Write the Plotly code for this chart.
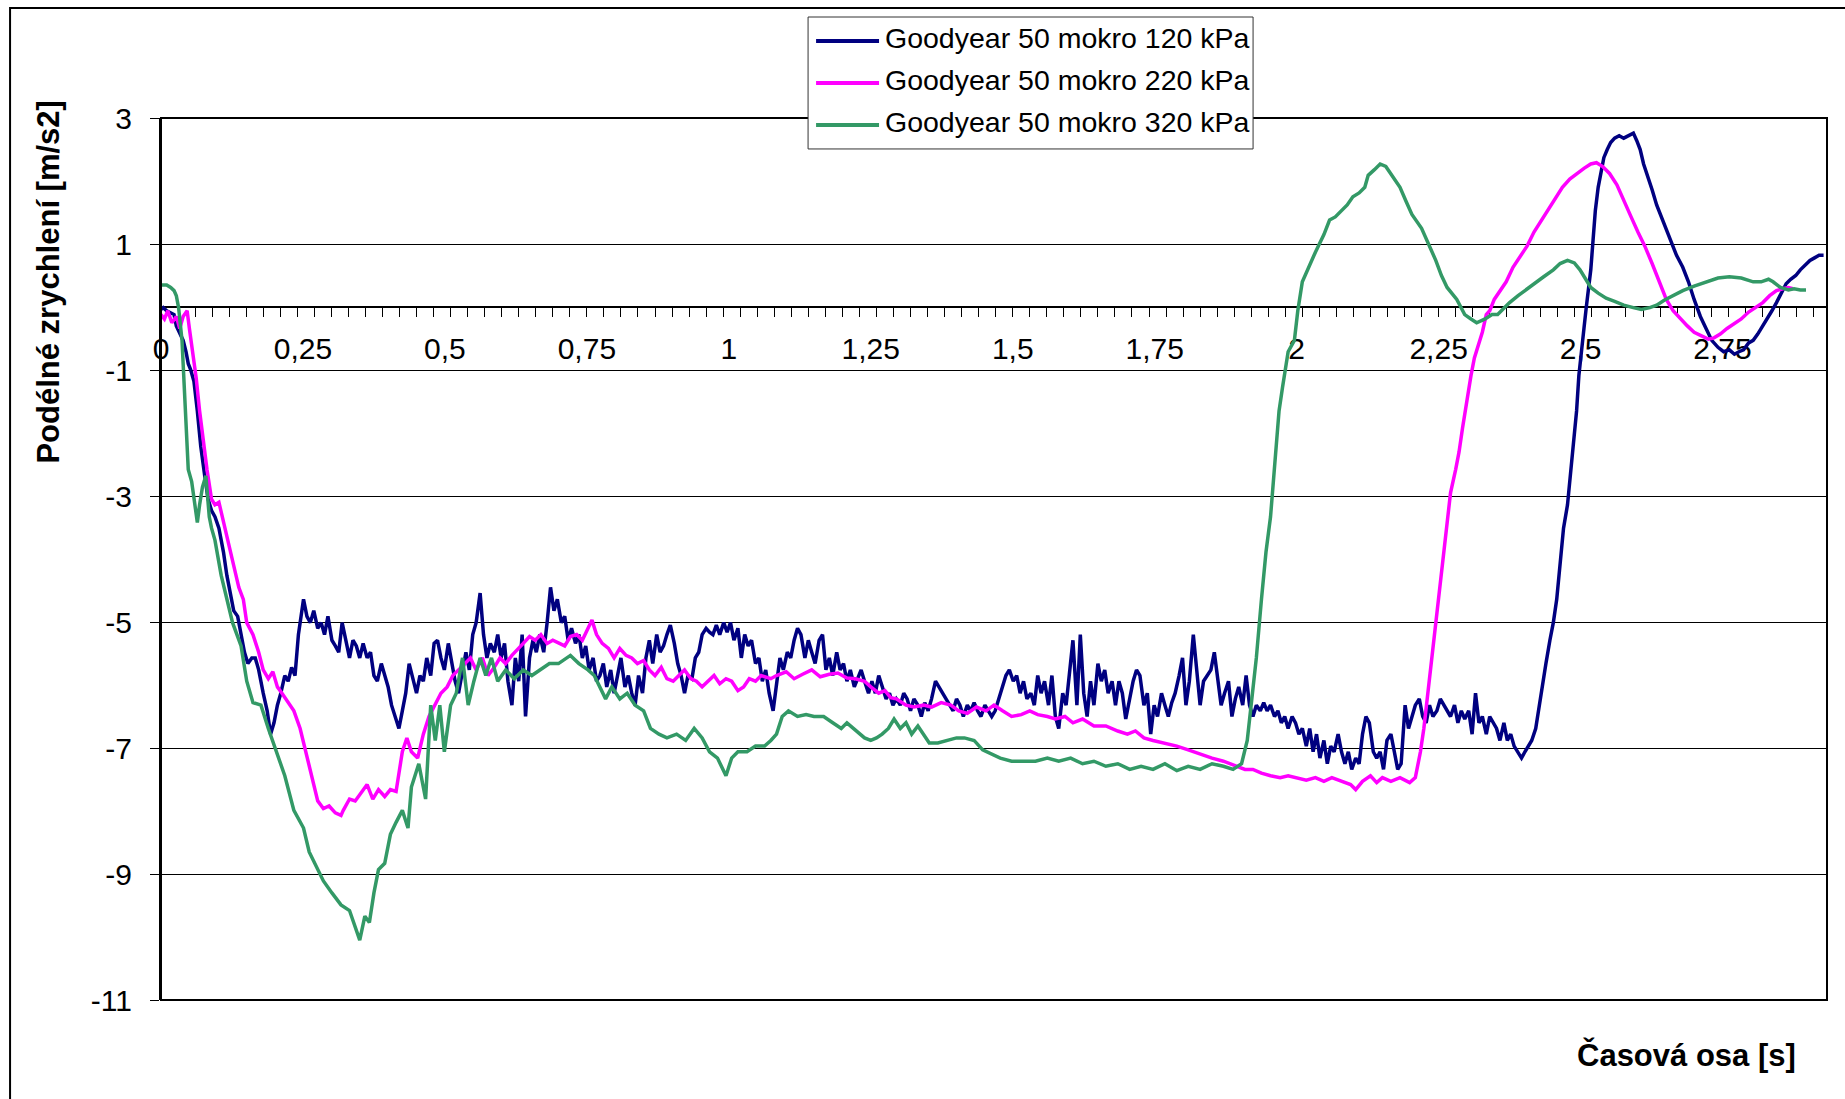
import plotly.graph_objects as go

# Longitudinal acceleration records, Goodyear tyre on wet surface, three inflation pressures
series_names = [
    "Goodyear 50 mokro 120 kPa",
    "Goodyear 50 mokro 220 kPa",
    "Goodyear 50 mokro 320 kPa",
]
series_colors = ["#000080", "#FF00FF", "#339966"]

t_120 = [
    0.000, 0.004, 0.010, 0.017, 0.023, 0.027, 0.033, 0.039, 0.044, 0.048, 0.052, 0.058, 0.064, 0.070,
    0.077, 0.083, 0.089, 0.095, 0.102, 0.110, 0.116, 0.122, 0.128, 0.135, 0.141, 0.147, 0.153, 0.160,
    0.166, 0.172, 0.180, 0.187, 0.193, 0.199, 0.205, 0.211, 0.218, 0.224, 0.230, 0.236, 0.242, 0.251,
    0.257, 0.263, 0.269, 0.276, 0.282, 0.288, 0.294, 0.301, 0.307, 0.313, 0.319, 0.325, 0.332, 0.338,
    0.344, 0.350, 0.356, 0.363, 0.369, 0.375, 0.381, 0.388, 0.394, 0.400, 0.406, 0.412, 0.419, 0.425,
    0.431, 0.437, 0.444, 0.450, 0.456, 0.462, 0.468, 0.475, 0.481, 0.487, 0.493, 0.499, 0.506, 0.512,
    0.518, 0.524, 0.531, 0.537, 0.543, 0.549, 0.555, 0.562, 0.568, 0.574, 0.580, 0.587, 0.593, 0.599,
    0.605, 0.611, 0.618, 0.624, 0.630, 0.636, 0.642, 0.649, 0.655, 0.661, 0.667, 0.674, 0.680, 0.686,
    0.692, 0.698, 0.705, 0.711, 0.717, 0.723, 0.730, 0.736, 0.742, 0.748, 0.754, 0.761, 0.767, 0.773,
    0.779, 0.785, 0.792, 0.798, 0.804, 0.810, 0.817, 0.823, 0.829, 0.835, 0.841, 0.848, 0.854, 0.860,
    0.866, 0.873, 0.879, 0.885, 0.891, 0.897, 0.904, 0.910, 0.916, 0.922, 0.928, 0.935, 0.941, 0.947,
    0.953, 0.960, 0.966, 0.972, 0.978, 0.984, 0.991, 0.997, 1.003, 1.009, 1.016, 1.022, 1.028, 1.034,
    1.040, 1.047, 1.053, 1.059, 1.065, 1.071, 1.078, 1.084, 1.090, 1.096, 1.103, 1.109, 1.115, 1.121,
    1.127, 1.134, 1.140, 1.146, 1.152, 1.159, 1.165, 1.171, 1.177, 1.183, 1.190, 1.196, 1.202, 1.208,
    1.214, 1.221, 1.227, 1.233, 1.239, 1.246, 1.252, 1.258, 1.264, 1.270, 1.277, 1.283, 1.289, 1.295,
    1.302, 1.308, 1.314, 1.320, 1.326, 1.333, 1.339, 1.345, 1.351, 1.357, 1.364, 1.370, 1.376, 1.382,
    1.389, 1.395, 1.401, 1.407, 1.413, 1.420, 1.426, 1.432, 1.438, 1.444, 1.451, 1.457, 1.463, 1.469,
    1.476, 1.482, 1.488, 1.494, 1.501, 1.507, 1.513, 1.519, 1.525, 1.532, 1.538, 1.544, 1.550, 1.556,
    1.563, 1.569, 1.575, 1.581, 1.588, 1.594, 1.600, 1.606, 1.613, 1.619, 1.625, 1.631, 1.637, 1.643,
    1.650, 1.656, 1.662, 1.668, 1.675, 1.681, 1.687, 1.693, 1.699, 1.706, 1.712, 1.718, 1.724, 1.731,
    1.737, 1.743, 1.749, 1.755, 1.762, 1.768, 1.774, 1.780, 1.786, 1.793, 1.799, 1.805, 1.811, 1.818,
    1.824, 1.830, 1.836, 1.842, 1.849, 1.855, 1.861, 1.867, 1.873, 1.880, 1.886, 1.892, 1.898, 1.905,
    1.911, 1.917, 1.923, 1.929, 1.936, 1.942, 1.948, 1.954, 1.961, 1.967, 1.973, 1.979, 1.985, 1.992,
    1.998, 2.004, 2.010, 2.017, 2.023, 2.029, 2.035, 2.041, 2.048, 2.054, 2.060, 2.066, 2.073, 2.079,
    2.085, 2.091, 2.097, 2.104, 2.110, 2.116, 2.122, 2.128, 2.135, 2.141, 2.147, 2.153, 2.159, 2.166,
    2.172, 2.178, 2.184, 2.191, 2.197, 2.203, 2.209, 2.216, 2.222, 2.228, 2.234, 2.240, 2.247, 2.253,
    2.259, 2.265, 2.271, 2.278, 2.284, 2.290, 2.296, 2.303, 2.309, 2.315, 2.321, 2.327, 2.334, 2.340,
    2.346, 2.352, 2.358, 2.365, 2.371, 2.377, 2.383, 2.390, 2.396, 2.402, 2.408, 2.414, 2.421, 2.427,
    2.433, 2.439, 2.446, 2.452, 2.458, 2.464, 2.470, 2.477, 2.483, 2.489, 2.493, 2.497, 2.501, 2.506,
    2.510, 2.514, 2.518, 2.522, 2.526, 2.531, 2.535, 2.541, 2.547, 2.553, 2.560, 2.568, 2.576, 2.586,
    2.593, 2.599, 2.605, 2.611, 2.618, 2.626, 2.634, 2.642, 2.651, 2.659, 2.669, 2.680, 2.690, 2.700,
    2.711, 2.721, 2.731, 2.742, 2.752, 2.762, 2.771, 2.779, 2.787, 2.796, 2.804, 2.812, 2.821, 2.829,
    2.837, 2.845, 2.854, 2.862, 2.870, 2.879, 2.887, 2.895, 2.904, 2.912, 2.920, 2.928,
]
a_120 = [
    -0.04, -0.01, -0.06, -0.10, -0.12, -0.30, -0.43, -0.53, -0.71, -0.90, -0.99, -1.18, -1.65, -2.21,
    -2.68, -3.05, -3.23, -3.33, -3.51, -3.89, -4.26, -4.54, -4.82, -4.91, -5.20, -5.48, -5.66, -5.57,
    -5.57, -5.76, -6.13, -6.41, -6.78, -6.60, -6.32, -6.13, -5.85, -5.94, -5.72, -5.85, -5.20, -4.64,
    -4.91, -5.01, -4.82, -5.10, -5.01, -5.20, -4.91, -5.29, -5.38, -5.48, -5.01, -5.29, -5.57, -5.29,
    -5.38, -5.57, -5.34, -5.57, -5.48, -5.85, -5.94, -5.66, -5.85, -6.03, -6.32, -6.50, -6.69, -6.41,
    -6.13, -5.66, -5.90, -6.13, -5.85, -5.94, -5.57, -5.85, -5.34, -5.29, -5.57, -5.76, -5.34, -5.66,
    -5.94, -6.13, -5.76, -5.48, -5.76, -5.20, -5.01, -4.54, -5.20, -5.57, -5.34, -5.48, -5.20, -5.57,
    -5.34, -5.94, -6.32, -5.57, -5.94, -5.20, -6.50, -5.57, -5.29, -5.48, -5.20, -5.48, -5.01, -4.45,
    -4.82, -4.64, -5.01, -4.91, -5.29, -5.10, -5.34, -5.20, -5.57, -5.38, -5.76, -5.57, -5.94, -5.85,
    -5.66, -6.03, -5.76, -6.13, -5.85, -5.57, -6.03, -5.85, -6.13, -6.32, -5.85, -6.13, -5.57, -5.29,
    -5.66, -5.20, -5.48, -5.38, -5.20, -5.05, -5.34, -5.66, -5.85, -6.13, -5.85, -5.90, -5.57, -5.48,
    -5.20, -5.10, -5.16, -5.20, -5.05, -5.20, -5.01, -5.16, -5.01, -5.29, -5.10, -5.57, -5.20, -5.38,
    -5.29, -5.66, -5.57, -5.94, -5.76, -6.13, -6.41, -5.94, -5.57, -5.76, -5.48, -5.57, -5.29, -5.10,
    -5.20, -5.57, -5.29, -5.48, -5.66, -5.29, -5.20, -5.76, -5.57, -5.85, -5.48, -5.76, -5.66, -5.94,
    -5.76, -6.03, -5.90, -5.76, -5.94, -6.13, -5.94, -6.13, -5.85, -6.03, -6.22, -6.13, -6.32, -6.22,
    -6.32, -6.13, -6.22, -6.41, -6.22, -6.32, -6.50, -6.28, -6.41, -6.22, -5.94, -6.03, -6.13, -6.22,
    -6.32, -6.41, -6.22, -6.32, -6.50, -6.32, -6.41, -6.28, -6.41, -6.50, -6.32, -6.41, -6.50, -6.41,
    -6.22, -6.03, -5.85, -5.76, -5.94, -5.85, -6.13, -5.94, -6.22, -6.13, -6.32, -5.85, -6.13, -5.94,
    -6.32, -5.85, -6.50, -6.69, -6.13, -6.32, -5.85, -5.29, -6.32, -5.20, -6.13, -6.50, -5.94, -6.32,
    -5.66, -5.94, -5.76, -6.13, -5.94, -6.32, -5.94, -6.13, -6.54, -6.22, -5.94, -5.76, -5.85, -6.32,
    -6.13, -6.78, -6.32, -6.50, -6.13, -6.32, -6.50, -6.28, -6.13, -5.85, -5.57, -6.32, -5.94, -5.20,
    -5.76, -6.32, -5.94, -5.85, -5.76, -5.48, -5.94, -6.32, -6.13, -5.94, -6.50, -6.22, -6.03, -6.32,
    -5.85, -6.32, -6.50, -6.32, -6.41, -6.28, -6.41, -6.32, -6.50, -6.41, -6.60, -6.50, -6.69, -6.50,
    -6.60, -6.78, -6.69, -6.97, -6.69, -7.06, -6.78, -7.16, -6.88, -7.25, -6.97, -7.06, -6.78, -7.06,
    -7.25, -7.06, -7.34, -7.16, -7.25, -6.78, -6.50, -6.60, -7.06, -7.16, -7.06, -7.34, -6.88, -6.78,
    -7.06, -7.34, -7.25, -6.32, -6.69, -6.50, -6.32, -6.22, -6.50, -6.60, -6.32, -6.50, -6.41, -6.22,
    -6.32, -6.41, -6.50, -6.32, -6.60, -6.41, -6.54, -6.41, -6.78, -6.13, -6.60, -6.50, -6.78, -6.50,
    -6.60, -6.69, -6.88, -6.60, -6.88, -6.78, -6.97, -7.06, -7.16, -7.06, -6.97, -6.88, -6.69, -6.32,
    -5.94, -5.66, -5.29, -5.01, -4.64, -4.07, -3.51, -3.14, -2.58, -2.02, -1.65, -1.09, -0.71, -0.34,
    -0.01, 0.31, 0.59, 1.06, 1.53, 1.90, 2.12, 2.37, 2.50, 2.61, 2.68, 2.72, 2.68, 2.72,
    2.76, 2.64, 2.50, 2.27, 2.09, 1.86, 1.62, 1.43, 1.25, 1.06, 0.82, 0.63, 0.40, 0.12,
    -0.15, -0.34, -0.53, -0.64, -0.71, -0.68, -0.75, -0.71, -0.68, -0.57, -0.53, -0.43, -0.30, -0.19,
    -0.06, 0.07, 0.22, 0.37, 0.44, 0.50, 0.59, 0.67, 0.74, 0.78, 0.82, 0.82,
]

t_220 = [
    0.000, 0.006, 0.012, 0.019, 0.027, 0.033, 0.039, 0.046, 0.050, 0.056, 0.062, 0.068, 0.075, 0.081,
    0.089, 0.095, 0.102, 0.110, 0.116, 0.122, 0.131, 0.137, 0.145, 0.151, 0.162, 0.172, 0.180, 0.189,
    0.197, 0.205, 0.213, 0.224, 0.234, 0.245, 0.255, 0.265, 0.276, 0.286, 0.296, 0.307, 0.317, 0.321,
    0.332, 0.342, 0.352, 0.363, 0.373, 0.383, 0.394, 0.404, 0.414, 0.425, 0.433, 0.441, 0.452, 0.462,
    0.472, 0.483, 0.493, 0.504, 0.514, 0.524, 0.535, 0.545, 0.555, 0.566, 0.576, 0.587, 0.597, 0.607,
    0.618, 0.628, 0.638, 0.649, 0.659, 0.669, 0.680, 0.690, 0.700, 0.711, 0.721, 0.732, 0.742, 0.752,
    0.759, 0.767, 0.777, 0.788, 0.798, 0.808, 0.819, 0.829, 0.839, 0.850, 0.860, 0.870, 0.881, 0.891,
    0.902, 0.912, 0.922, 0.933, 0.943, 0.953, 0.964, 0.974, 0.984, 0.995, 1.005, 1.016, 1.026, 1.036,
    1.047, 1.057, 1.074, 1.084, 1.101, 1.115, 1.130, 1.146, 1.161, 1.177, 1.192, 1.208, 1.223, 1.239,
    1.250, 1.264, 1.275, 1.285, 1.295, 1.312, 1.326, 1.343, 1.357, 1.374, 1.391, 1.405, 1.420, 1.436,
    1.453, 1.467, 1.482, 1.498, 1.515, 1.530, 1.544, 1.561, 1.575, 1.592, 1.606, 1.623, 1.643, 1.664,
    1.685, 1.702, 1.716, 1.731, 1.747, 1.768, 1.789, 1.809, 1.830, 1.851, 1.871, 1.892, 1.909, 1.923,
    1.938, 1.954, 1.971, 1.985, 2.000, 2.017, 2.033, 2.048, 2.062, 2.079, 2.095, 2.104, 2.116, 2.130,
    2.141, 2.151, 2.166, 2.182, 2.199, 2.209, 2.218, 2.224, 2.230, 2.238, 2.245, 2.251, 2.259, 2.265,
    2.271, 2.280, 2.286, 2.292, 2.300, 2.307, 2.313, 2.319, 2.327, 2.334, 2.340, 2.348, 2.358, 2.369,
    2.381, 2.394, 2.406, 2.418, 2.431, 2.443, 2.456, 2.468, 2.481, 2.493, 2.506, 2.518, 2.528, 2.539,
    2.551, 2.564, 2.576, 2.589, 2.601, 2.613, 2.626, 2.638, 2.651, 2.663, 2.676, 2.688, 2.700, 2.715,
    2.725, 2.735, 2.746, 2.758, 2.771, 2.783, 2.796, 2.808, 2.821, 2.833, 2.845, 2.856, 2.866, 2.874,
]
a_220 = [
    -0.12, -0.19, -0.06, -0.25, -0.15, -0.34, -0.15, -0.06, -0.34, -0.71, -1.13, -1.65, -2.21, -2.58,
    -3.05, -3.14, -3.10, -3.42, -3.61, -3.89, -4.26, -4.45, -4.64, -5.01, -5.20, -5.48, -5.76, -5.90,
    -5.79, -6.03, -6.13, -6.28, -6.41, -6.69, -7.06, -7.44, -7.84, -7.96, -7.92, -8.03, -8.07, -7.99,
    -7.81, -7.84, -7.71, -7.58, -7.81, -7.66, -7.77, -7.66, -7.69, -7.06, -6.84, -7.06, -7.16, -6.78,
    -6.50, -6.32, -6.13, -6.03, -5.85, -5.76, -5.66, -5.57, -5.76, -5.57, -5.85, -5.72, -5.57, -5.66,
    -5.53, -5.44, -5.34, -5.23, -5.29, -5.20, -5.34, -5.29, -5.34, -5.38, -5.23, -5.20, -5.29, -5.10,
    -4.97, -5.20, -5.34, -5.42, -5.57, -5.42, -5.53, -5.57, -5.66, -5.61, -5.76, -5.85, -5.72, -5.90,
    -5.94, -5.85, -5.76, -5.90, -5.94, -6.03, -5.94, -5.85, -5.98, -5.90, -5.94, -6.09, -6.03, -5.90,
    -5.94, -5.85, -5.90, -5.85, -5.79, -5.90, -5.83, -5.76, -5.87, -5.83, -5.81, -5.89, -5.90, -5.94,
    -6.03, -6.13, -6.09, -6.20, -6.22, -6.32, -6.35, -6.32, -6.35, -6.28, -6.32, -6.41, -6.45, -6.35,
    -6.41, -6.32, -6.41, -6.50, -6.47, -6.41, -6.47, -6.50, -6.54, -6.50, -6.60, -6.54, -6.65, -6.65,
    -6.73, -6.78, -6.73, -6.84, -6.88, -6.92, -6.97, -7.03, -7.10, -7.16, -7.21, -7.29, -7.34, -7.34,
    -7.40, -7.44, -7.47, -7.44, -7.47, -7.51, -7.47, -7.53, -7.47, -7.53, -7.58, -7.66, -7.53, -7.44,
    -7.55, -7.47, -7.53, -7.47, -7.55, -7.47, -7.06, -6.69, -6.22, -5.57, -5.01, -4.54, -3.89, -3.42,
    -2.95, -2.58, -2.30, -1.93, -1.46, -1.09, -0.81, -0.62, -0.40, -0.12, -0.06, 0.12, 0.26, 0.40,
    0.63, 0.82, 0.97, 1.19, 1.38, 1.56, 1.75, 1.90, 2.03, 2.12, 2.20, 2.27, 2.29, 2.23,
    2.12, 1.94, 1.71, 1.43, 1.19, 0.97, 0.69, 0.40, 0.12, -0.06, -0.19, -0.30, -0.40, -0.47,
    -0.51, -0.49, -0.43, -0.34, -0.27, -0.19, -0.08, -0.01, 0.07, 0.18, 0.26, 0.29, 0.31, 0.29,
]

t_320 = [
    0.000, 0.010, 0.017, 0.023, 0.027, 0.031, 0.037, 0.041, 0.046, 0.048, 0.054, 0.058, 0.064, 0.068,
    0.073, 0.079, 0.085, 0.089, 0.095, 0.106, 0.116, 0.126, 0.141, 0.151, 0.162, 0.176, 0.189, 0.203,
    0.218, 0.234, 0.251, 0.261, 0.276, 0.286, 0.301, 0.317, 0.332, 0.342, 0.350, 0.359, 0.367, 0.375,
    0.383, 0.394, 0.404, 0.414, 0.425, 0.435, 0.441, 0.454, 0.466, 0.475, 0.483, 0.491, 0.499, 0.510,
    0.520, 0.531, 0.541, 0.551, 0.562, 0.572, 0.582, 0.593, 0.607, 0.622, 0.638, 0.653, 0.669, 0.684,
    0.700, 0.721, 0.736, 0.752, 0.763, 0.773, 0.783, 0.794, 0.808, 0.821, 0.835, 0.850, 0.862, 0.877,
    0.891, 0.908, 0.924, 0.939, 0.953, 0.966, 0.980, 0.995, 1.005, 1.016, 1.032, 1.047, 1.063, 1.074,
    1.084, 1.094, 1.105, 1.121, 1.136, 1.150, 1.167, 1.183, 1.198, 1.208, 1.225, 1.239, 1.250, 1.260,
    1.270, 1.281, 1.291, 1.302, 1.312, 1.322, 1.333, 1.343, 1.353, 1.368, 1.384, 1.401, 1.415, 1.432,
    1.447, 1.463, 1.478, 1.498, 1.519, 1.540, 1.561, 1.581, 1.602, 1.623, 1.643, 1.664, 1.685, 1.706,
    1.726, 1.747, 1.768, 1.789, 1.809, 1.830, 1.851, 1.871, 1.888, 1.903, 1.913, 1.923, 1.929, 1.938,
    1.946, 1.954, 1.961, 1.969, 1.975, 1.985, 1.996, 2.002, 2.010, 2.021, 2.033, 2.048, 2.058, 2.068,
    2.079, 2.089, 2.099, 2.110, 2.120, 2.126, 2.137, 2.147, 2.157, 2.168, 2.182, 2.193, 2.203, 2.220,
    2.234, 2.245, 2.255, 2.265, 2.282, 2.296, 2.307, 2.317, 2.332, 2.344, 2.354, 2.365, 2.375, 2.390,
    2.406, 2.421, 2.435, 2.452, 2.464, 2.477, 2.489, 2.499, 2.510, 2.518, 2.531, 2.545, 2.560, 2.576,
    2.593, 2.607, 2.622, 2.634, 2.648, 2.663, 2.680, 2.700, 2.721, 2.742, 2.762, 2.783, 2.804, 2.818,
    2.831, 2.839, 2.852, 2.866, 2.876, 2.887, 2.897,
]
a_320 = [
    0.35, 0.35, 0.31, 0.26, 0.18, -0.01, -0.53, -1.28, -2.02, -2.58, -2.77, -3.05, -3.42, -3.14,
    -2.86, -2.68, -3.33, -3.51, -3.70, -4.26, -4.64, -5.01, -5.38, -5.94, -6.28, -6.32, -6.69, -7.06,
    -7.44, -7.99, -8.27, -8.65, -8.93, -9.11, -9.30, -9.49, -9.58, -9.86, -10.05, -9.67, -9.77, -9.30,
    -8.93, -8.83, -8.37, -8.18, -7.99, -8.27, -7.62, -7.25, -7.81, -6.32, -6.88, -6.32, -7.06, -6.32,
    -6.13, -5.57, -6.32, -5.94, -5.57, -5.85, -5.57, -5.94, -5.76, -5.90, -5.76, -5.85, -5.76, -5.66,
    -5.66, -5.53, -5.66, -5.76, -5.85, -6.03, -6.22, -6.03, -6.22, -6.13, -6.32, -6.41, -6.69, -6.78,
    -6.84, -6.78, -6.88, -6.69, -6.84, -7.06, -7.16, -7.44, -7.16, -7.06, -7.06, -6.97, -6.97, -6.88,
    -6.78, -6.50, -6.41, -6.50, -6.47, -6.50, -6.50, -6.60, -6.69, -6.60, -6.73, -6.84, -6.88, -6.84,
    -6.78, -6.69, -6.54, -6.69, -6.60, -6.78, -6.65, -6.78, -6.92, -6.92, -6.88, -6.84, -6.84, -6.88,
    -7.03, -7.10, -7.16, -7.21, -7.21, -7.21, -7.16, -7.21, -7.16, -7.25, -7.21, -7.29, -7.25, -7.34,
    -7.29, -7.34, -7.25, -7.36, -7.29, -7.34, -7.25, -7.29, -7.34, -7.25, -6.88, -6.13, -5.57, -4.64,
    -3.89, -3.33, -2.58, -1.65, -1.28, -0.71, -0.53, -0.06, 0.40, 0.63, 0.87, 1.15, 1.38, 1.43,
    1.53, 1.62, 1.75, 1.81, 1.90, 2.09, 2.18, 2.27, 2.23, 2.09, 1.90, 1.67, 1.47, 1.25,
    0.97, 0.74, 0.50, 0.31, 0.12, -0.12, -0.19, -0.25, -0.19, -0.12, -0.12, -0.01, 0.07, 0.18,
    0.29, 0.40, 0.48, 0.59, 0.69, 0.74, 0.70, 0.59, 0.44, 0.31, 0.22, 0.14, 0.09, 0.03,
    -0.01, -0.04, -0.01, 0.03, 0.11, 0.18, 0.26, 0.33, 0.40, 0.46, 0.48, 0.46, 0.40, 0.40,
    0.44, 0.40, 0.31, 0.27, 0.29, 0.27, 0.27,
]

x_tick_vals = [0, 0.25, 0.5, 0.75, 1, 1.25, 1.5, 1.75, 2, 2.25, 2.5, 2.75]
x_tick_text = ["0", "0,25", "0,5", "0,75", "1", "1,25", "1,5", "1,75", "2", "2,25", "2,5", "2,75"]
y_tick_vals = [-11, -9, -7, -5, -3, -1, 1, 3]
y_tick_text = ["-11", "-9", "-7", "-5", "-3", "-1", "1", "3"]

x_title = "Časová osa [s]"
y_title = "Podélné zrychlení [m/s2]"

FONT = "Arial, Liberation Sans, sans-serif"
X_MAX = 2.934
Y_MIN, Y_MAX = -11, 3

fig = go.Figure()
for t, a, name, color in zip([t_120, t_220, t_320], [a_120, a_220, a_320], series_names, series_colors):
    fig.add_trace(go.Scatter(
        x=t, y=a, name=name, mode="lines",
        line=dict(color=color, width=3.5),
        showlegend=False,
    ))

# the time axis crosses the value axis at zero
zero_pos = (0 - Y_MIN) / (Y_MAX - Y_MIN)

fig.update_layout(
    width=1845, height=1099,
    margin=dict(l=161, r=18, t=118, b=99),
    paper_bgcolor="white", plot_bgcolor="white",
    font=dict(family=FONT, color="black"),
    showlegend=False,
    xaxis=dict(
        range=[0, X_MAX],
        anchor="free", position=zero_pos,
        showline=True, linecolor="black", linewidth=1.5,
        showgrid=False, zeroline=False,
        tickmode="array", tickvals=x_tick_vals, ticktext=x_tick_text,
        ticks="", ticklabelstandoff=15,
        tickfont=dict(size=30, family=FONT, color="black"),
        minor=dict(ticks="outside", tickmode="linear", tick0=0, dtick=0.03,
                   ticklen=9, tickwidth=1, tickcolor="black", showgrid=False),
        layer="below traces",
    ),
    yaxis=dict(
        range=[Y_MIN, Y_MAX],
        showline=True, linecolor="black", linewidth=2,
        showgrid=True, gridcolor="black", gridwidth=1,
        zeroline=False,
        tickmode="array", tickvals=y_tick_vals, ticktext=y_tick_text,
        ticks="outside", ticklen=9, tickcolor="black", tickwidth=1,
        ticklabelstandoff=12,
        tickfont=dict(size=30, family=FONT, color="black"),
    ),
)

# plot area border
fig.add_shape(type="rect", xref="x domain", yref="y domain", x0=0, x1=1, y0=0, y1=1,
              line=dict(color="black", width=2), fillcolor="rgba(0,0,0,0)", layer="above")

# outer chart frame
fig.add_shape(type="rect", xref="paper", yref="paper", x0=-0.0906, x1=1.02, y0=-0.13, y1=1.1247,
              line=dict(color="black", width=2), fillcolor="rgba(0,0,0,0)", layer="above")

# legend box with line samples
fig.add_shape(type="rect", xref="paper", yref="paper", x0=0.3884, x1=0.6555, y0=0.9649, y1=1.1145,
              line=dict(color="#333333", width=1), fillcolor="white", layer="above")
legend_rows = [1.0873, 1.0397, 0.9921]
for name, color, yy in zip(series_names, series_colors, legend_rows):
    fig.add_shape(type="line", xref="paper", yref="paper", x0=0.3932, x1=0.4310, y0=yy, y1=yy,
                  line=dict(color=color, width=4), layer="above")
    fig.add_annotation(xref="paper", yref="paper", x=0.4331, y=yy + 0.0034, text=name, showarrow=False,
                       xanchor="left", yanchor="middle",
                       font=dict(size=28.5, family=FONT, color="black"))

# axis titles
fig.add_annotation(xref="paper", yref="paper", x=-0.0678, y=0.8146, text=f"<b>{y_title}</b>",
                   textangle=-90, showarrow=False, xanchor="center", yanchor="middle",
                   font=dict(size=31, family=FONT, color="black"))
fig.add_annotation(xref="paper", yref="paper", x=0.9826, y=-0.0624, text=f"<b>{x_title}</b>",
                   showarrow=False, xanchor="right", yanchor="middle",
                   font=dict(size=31, family=FONT, color="black"))

fig.write_html("out.html")
